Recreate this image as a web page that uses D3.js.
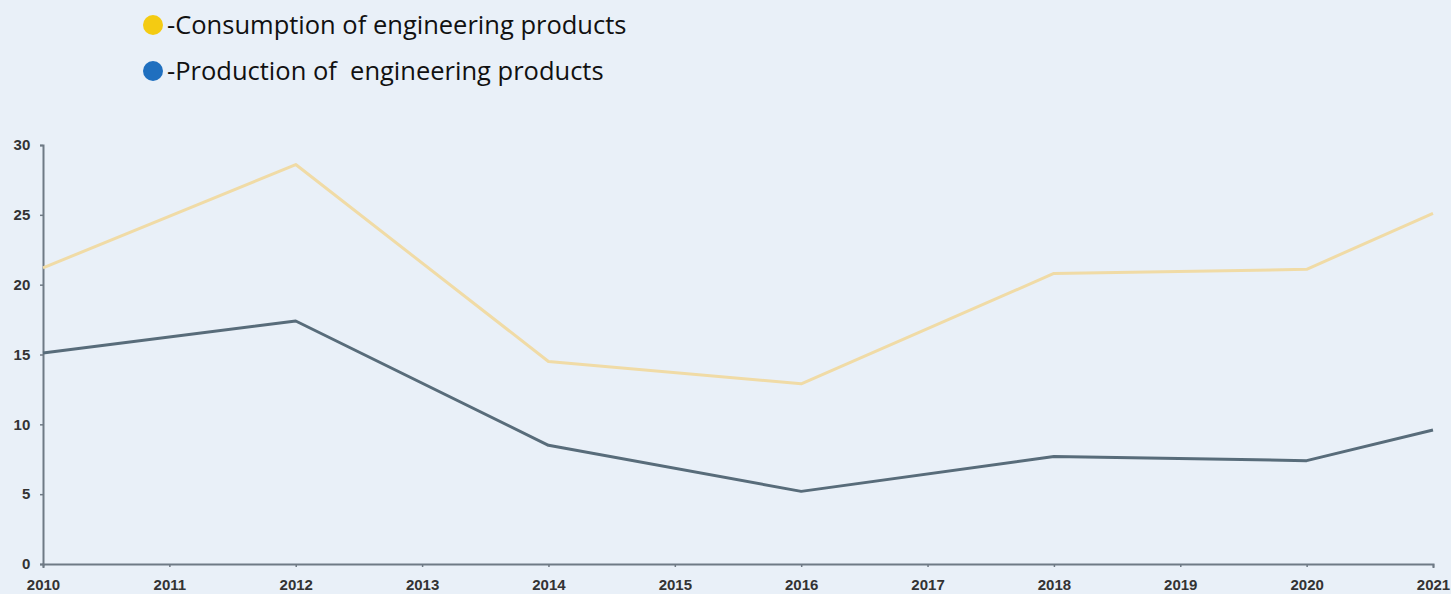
<!DOCTYPE html>
<html>
<head>
<meta charset="utf-8">
<script src="https://cdn.jsdelivr.net/npm/d3@7/dist/d3.min.js"></script>
<style>
  html, body { margin: 0; padding: 0; background: #e9f0f8; }
  #chart { width: 1451px; height: 594px; }
</style>
</head>
<body>
<div id="chart"></div>
<script>
// Years on the x axis, ticks every year
const years = [2010, 2011, 2012, 2013, 2014, 2015, 2016, 2017, 2018, 2019, 2020, 2021];
const yTicks = [0, 5, 10, 15, 20, 25, 30];

// Points (only the corner years carry data)
const pointYears = [2010, 2012, 2014, 2016, 2018, 2020, 2021];
const consumption = [21.2, 28.6, 14.5, 12.9, 20.8, 21.1, 25.1];
const production = [15.1, 17.4, 8.5, 5.2, 7.7, 7.4, 9.6];

const legendLabels = ["-Consumption of engineering products", "-Production of  engineering products"];
const legendColors = ["#f4cb12", "#1f6fbf"];

function drawLineChart() {
    const width = 1451, height = 594;
    const margin = { top: 145, right: 18, bottom: 30, left: 43 };

    const svg = d3.select("#chart")
        .append("svg")
        .attr("width", width)
        .attr("height", height);

    const x = d3.scaleLinear()
        .domain([2010, 2021])
        .range([margin.left, width - margin.right]);

    const y = d3.scaleLinear()
        .domain([0, 30])
        .range([height - margin.bottom, margin.top]);

    // X axis
    const xAxis = svg.append("g")
        .attr("transform", `translate(0,${height - margin.bottom})`)
        .call(d3.axisBottom(x).tickValues(years).tickFormat(d3.format("d")).tickSize(3).tickSizeOuter(4));

    // Y axis
    const yAxis = svg.append("g")
        .attr("transform", `translate(${margin.left},0)`)
        .call(d3.axisLeft(y).tickValues(yTicks).tickSize(3).tickSizeOuter(3));

    [xAxis, yAxis].forEach(g => {
        g.select(".domain").attr("stroke", "#6f7a85").attr("stroke-width", 2);
        g.selectAll(".tick line").attr("stroke", "#6f7a85").attr("stroke-width", 1.5);
        g.selectAll(".tick text")
            .attr("fill", "#333")
            .style("font-family", "'Liberation Sans', Arial, sans-serif")
            .style("font-weight", "bold")
            .style("font-size", "15px");
    });
    xAxis.selectAll(".tick text").attr("dy", "1.3em");
    yAxis.selectAll(".tick text").attr("dx", "-0.45em");

    const line = d3.line()
        .x((d, i) => x(pointYears[i]))
        .y(d => y(d));

    svg.append("path")
        .datum(consumption)
        .attr("fill", "none")
        .attr("stroke", "#f0dba6")
        .attr("stroke-width", 3)
        .attr("stroke-linejoin", "round")
        .attr("d", line);

    svg.append("path")
        .datum(production)
        .attr("fill", "none")
        .attr("stroke", "#586c7a")
        .attr("stroke-width", 3)
        .attr("stroke-linejoin", "round")
        .attr("d", line);

    // Legend
    const legend = svg.append("g");
    legendLabels.forEach((label, i) => {
        const cy = 25 + i * 46;
        legend.append("circle")
            .attr("cx", 153)
            .attr("cy", cy)
            .attr("r", 10)
            .attr("fill", legendColors[i]);
        legend.append("text")
            .attr("x", 167)
            .attr("y", cy)
            .attr("dy", "0.35em")
            .attr("fill", "#111")
            .style("white-space", "pre")
            .style("font-family", "'Open Sans', sans-serif")
            .style("font-size", "25.5px")
            .text(label);
    });
}

drawLineChart();
</script>
</body>
</html>
